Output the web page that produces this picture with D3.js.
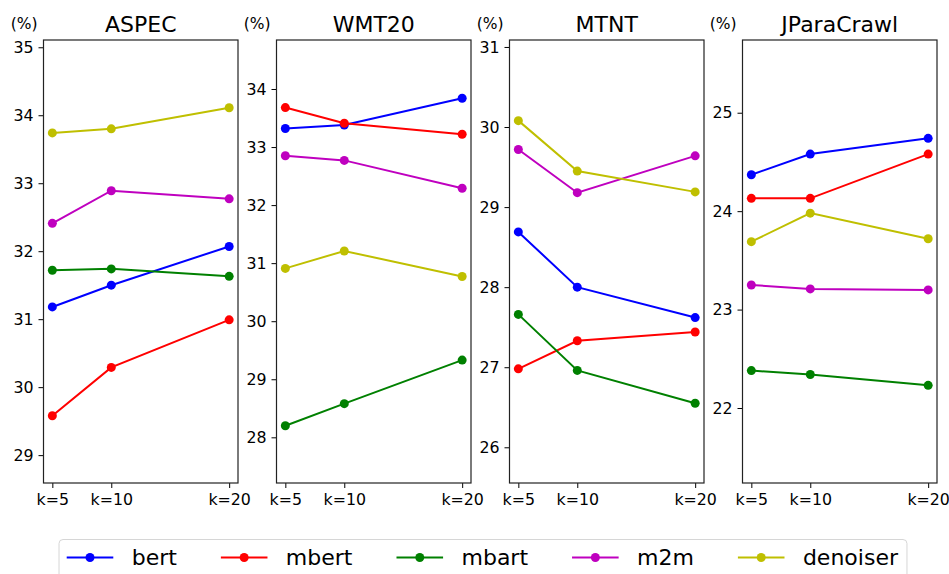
<!DOCTYPE html>
<html>
<head>
<meta charset="utf-8">
<script src="https://cdn.jsdelivr.net/npm/d3@7"></script>
<style>
  body { margin: 0; background: #fff; }
  svg { font-family: "DejaVu Sans", sans-serif; }
</style>
</head>
<body>
<div id="chart"></div>
<script>
/* DATA */
var datasets = ["ASPEC", "WMT20", "MTNT", "JParaCrawl"];
var kValues = [5, 10, 20];
var kLabels = ["k=5", "k=10", "k=20"];
var models = ["bert", "mbert", "mbart", "m2m", "denoiser"];
var modelColors = ["#0000ff", "#ff0000", "#008000", "#bf00bf", "#bfbf00"];

/* scores per dataset, one row per model (bert, mbert, mbart, m2m, denoiser) */
var aspec = [
  [31.18, 31.50, 32.07],
  [29.58, 30.29, 30.99],
  [31.72, 31.74, 31.63],
  [32.41, 32.89, 32.77],
  [33.74, 33.80, 34.11]
];
var wmt20 = [
  [33.32, 33.38, 33.84],
  [33.68, 33.41, 33.22],
  [28.20, 28.58, 29.33],
  [32.85, 32.77, 32.29],
  [30.91, 31.21, 30.77]
];
var mtnt = [
  [28.69, 28.00, 27.62],
  [26.98, 27.33, 27.44],
  [27.66, 26.96, 26.55],
  [29.72, 29.18, 29.64],
  [30.08, 29.45, 29.19]
];
var jparacrawl = [
  [24.37, 24.58, 24.74],
  [24.13, 24.13, 24.58],
  [22.38, 22.34, 22.23],
  [23.25, 23.21, 23.20],
  [23.69, 23.98, 23.72]
];
var scores = [aspec, wmt20, mtnt, jparacrawl];

/* axis limits and ticks per panel */
var yLimits = [[28.59, 35.107], [27.213, 34.844], [25.554, 31.087], [21.238, 25.739]];
var yTicks = [
  [29, 30, 31, 32, 33, 34, 35],
  [28, 29, 30, 31, 32, 33, 34],
  [26, 27, 28, 29, 30, 31],
  [22, 23, 24, 25]
];

/* LAYOUT */
var W = 949, H = 574;
var panelLeft = 43.5, panelStep = 233, panelWidth = 194.5;
var panelTop = 40, panelBottom = 483;

var svg = d3.select("#chart").append("svg")
  .attr("width", W)
  .attr("height", H);

var x = d3.scaleLinear().domain([4.25, 20.75]).range([0, panelWidth]);

datasets.forEach(function (name, p) {
  var g = svg.append("g")
    .attr("transform", "translate(" + (panelLeft + p * panelStep) + "," + panelTop + ")");
  var h = panelBottom - panelTop;
  var y = d3.scaleLinear().domain(yLimits[p]).range([h, 0]);

  /* y axis */
  var yAxis = g.append("g")
    .call(d3.axisLeft(y).tickValues(yTicks[p]).tickFormat(d3.format("d")).tickSize(5).tickPadding(5));
  yAxis.select(".domain").remove();

  /* x axis */
  var xAxis = g.append("g")
    .attr("transform", "translate(0," + h + ")")
    .call(d3.axisBottom(x).tickValues(kValues).tickFormat(function (d, i) { return kLabels[i]; })
      .tickSize(5).tickPadding(6));
  xAxis.select(".domain").remove();

  svg.selectAll(".tick text")
    .style("font-size", "15.8px")
    .style("font-family", "DejaVu Sans, sans-serif")
    .attr("fill", "#000");
  svg.selectAll(".tick line").attr("stroke", "#000").attr("stroke-width", 1);

  /* lines and markers */
  var line = d3.line()
    .x(function (d, i) { return x(kValues[i]); })
    .y(function (d) { return y(d); });

  scores[p].forEach(function (row, m) {
    g.append("path")
      .datum(row)
      .attr("fill", "none")
      .attr("stroke", modelColors[m])
      .attr("stroke-width", 2)
      .attr("d", line);
    g.selectAll(null)
      .data(row)
      .enter().append("circle")
      .attr("cx", function (d, i) { return x(kValues[i]); })
      .attr("cy", function (d) { return y(d); })
      .attr("r", 4.5)
      .attr("fill", modelColors[m]);
  });

  /* frame */
  g.append("rect")
    .attr("width", panelWidth)
    .attr("height", h)
    .attr("fill", "none")
    .attr("stroke", "#222")
    .attr("stroke-width", 1.2);

  /* title */
  g.append("text")
    .attr("x", panelWidth / 2)
    .attr("y", -8)
    .attr("text-anchor", "middle")
    .style("font-size", "22px")
    .text(name);

  /* unit */
  g.append("text")
    .attr("x", -6)
    .attr("y", -11)
    .attr("text-anchor", "end")
    .style("font-size", "15.5px")
    .text("(%)");
});

/* LEGEND */
var legend = svg.append("g");
var legendBox = legend.append("rect")
  .attr("y", 539.5)
  .attr("height", 60)
  .attr("rx", 4)
  .attr("fill", "#fff")
  .attr("stroke", "#d6d6d6")
  .attr("stroke-width", 1);

var cx = 0, legendY = 557.5;
models.forEach(function (m, i) {
  var item = legend.append("g").attr("transform", "translate(" + cx + ",0)");
  item.append("line")
    .attr("x1", 0).attr("x2", 46.6)
    .attr("y1", legendY).attr("y2", legendY)
    .attr("stroke", modelColors[i])
    .attr("stroke-width", 2);
  item.append("circle")
    .attr("cx", 23.3).attr("cy", legendY)
    .attr("r", 4.5)
    .attr("fill", modelColors[i]);
  var t = item.append("text")
    .attr("x", 65)
    .attr("y", legendY)
    .attr("dy", "0.36em")
    .style("font-size", "22px")
    .text(m);
  cx += 65 + t.node().getComputedTextLength() + 44;
});
var totalW = cx - 44;
var startX = 66.7;
legend.selectAll("g").attr("transform", function () {
  var tr = d3.select(this).attr("transform");
  var off = +tr.match(/translate\(([-\d.]+)/)[1];
  return "translate(" + (off + startX) + ",0)";
});
legendBox.attr("x", startX - 7.7).attr("width", totalW + 7.7 + 9);
</script>
</body>
</html>
